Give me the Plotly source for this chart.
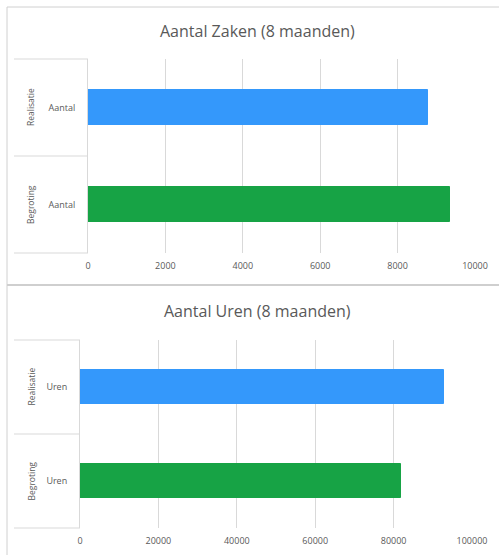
import plotly.graph_objects as go

W, H = 499, 555

groups = ["Begroting", "Realisatie"]
zaken_label = "Aantal"
zaken_values = [9350, 8780]
uren_label = "Uren"
uren_values = [81900, 92900]
colors = ["#17a345", "#3498fb"]
titles = ["Aantal Zaken (8 maanden)", "Aantal Uren (8 maanden)"]
zaken_ticks = [0, 2000, 4000, 6000, 8000, 10000]
uren_ticks = [0, 20000, 40000, 60000, 80000, 100000]

FONT = "Open Sans, Liberation Sans, sans-serif"
TXT = "#595959"
GRID = "#d9d9d9"

def px_x(x):
    return x / W

def px_y(y):
    return 1 - y / H

fig = go.Figure()
fig.add_trace(go.Bar(y=groups, x=zaken_values, orientation="h",
                     marker=dict(color=colors, line=dict(color=colors, width=1)),
                     width=0.37, xaxis="x", yaxis="y", showlegend=False))
fig.add_trace(go.Bar(y=groups, x=uren_values, orientation="h",
                     marker=dict(color=colors, line=dict(color=colors, width=1)),
                     width=0.37, xaxis="x2", yaxis="y2", showlegend=False))

charts = [
    dict(x0=88, x1=475, y0=59, y1=253, rng=[0, 10000], ticks=zaken_ticks, lab=zaken_label, title_y=31),
    dict(x0=80, x1=472, y0=340, y1=528, rng=[0, 100000], ticks=uren_ticks, lab=uren_label, title_y=311),
]

layout = dict(width=W, height=H, autosize=False, margin=dict(l=0, r=0, t=0, b=0, autoexpand=False),
              paper_bgcolor="white", plot_bgcolor="white", bargap=0,
              font=dict(family=FONT, color=TXT))
shapes = []
annotations = []
for i, c in enumerate(charts):
    sx = "" if i == 0 else "2"
    layout["xaxis" + sx] = dict(domain=[px_x(c["x0"]), px_x(c["x1"])], range=c["rng"],
                                anchor="y" + sx, tickvals=c["ticks"], automargin=False,
                                ticktext=[str(t) for t in c["ticks"]], showgrid=True,
                                gridcolor=GRID, gridwidth=1, zeroline=False, showline=False,
                                tickfont=dict(size=9, color=TXT), ticks="", ticklabelstandoff=6)
    layout["yaxis" + sx] = dict(domain=[px_y(c["y1"]), px_y(c["y0"])], range=[-0.5, 1.5],
                                anchor="x" + sx, type="category", tickvals=groups, automargin=False,
                                ticktext=[c["lab"]] * len(groups), showline=True,
                                linecolor=GRID, linewidth=1, showgrid=False, zeroline=False,
                                tickfont=dict(size=9, color=TXT), ticks="", ticklabelstandoff=10)
    annotations.append(dict(text=titles[i], xref="paper", yref="paper", x=px_x(257),
                            y=px_y(c["title_y"]), yanchor="middle", xanchor="center",
                            showarrow=False, font=dict(size=16, color=TXT, family=FONT)))
    for yy in (c["y0"], (c["y0"] + c["y1"]) / 2, c["y1"]):
        shapes.append(dict(type="line", xref="paper", yref="paper", x0=px_x(14), x1=px_x(c["x0"]),
                           y0=px_y(yy), y1=px_y(yy), line=dict(color=GRID, width=1)))
    for g in groups:
        annotations.append(dict(text=g, xref="paper", yref="y" + sx, x=px_x(23), y=g,
                                showarrow=False, textangle=-90,
                                font=dict(size=8.5, color=TXT, family=FONT)))

shapes.append(dict(type="line", xref="paper", yref="paper", x0=px_x(7), x1=px_x(7),
                   y0=0, y1=px_y(7), line=dict(color="#d0d0d0", width=1)))
shapes.append(dict(type="line", xref="paper", yref="paper", x0=px_x(7), x1=1,
                   y0=px_y(7), y1=px_y(7), line=dict(color="#d0d0d0", width=1)))
shapes.append(dict(type="line", xref="paper", yref="paper", x0=px_x(7), x1=1,
                   y0=px_y(285), y1=px_y(285), line=dict(color="#cfcfcf", width=2)))

layout["shapes"] = shapes
layout["annotations"] = annotations
fig.update_layout(**layout)
post = ("document.documentElement.style.overflow='hidden';"
        "document.body.style.margin='0';document.body.style.overflow='hidden';")
fig.write_html("out.html", config={"displayModeBar": False}, post_script=post)
